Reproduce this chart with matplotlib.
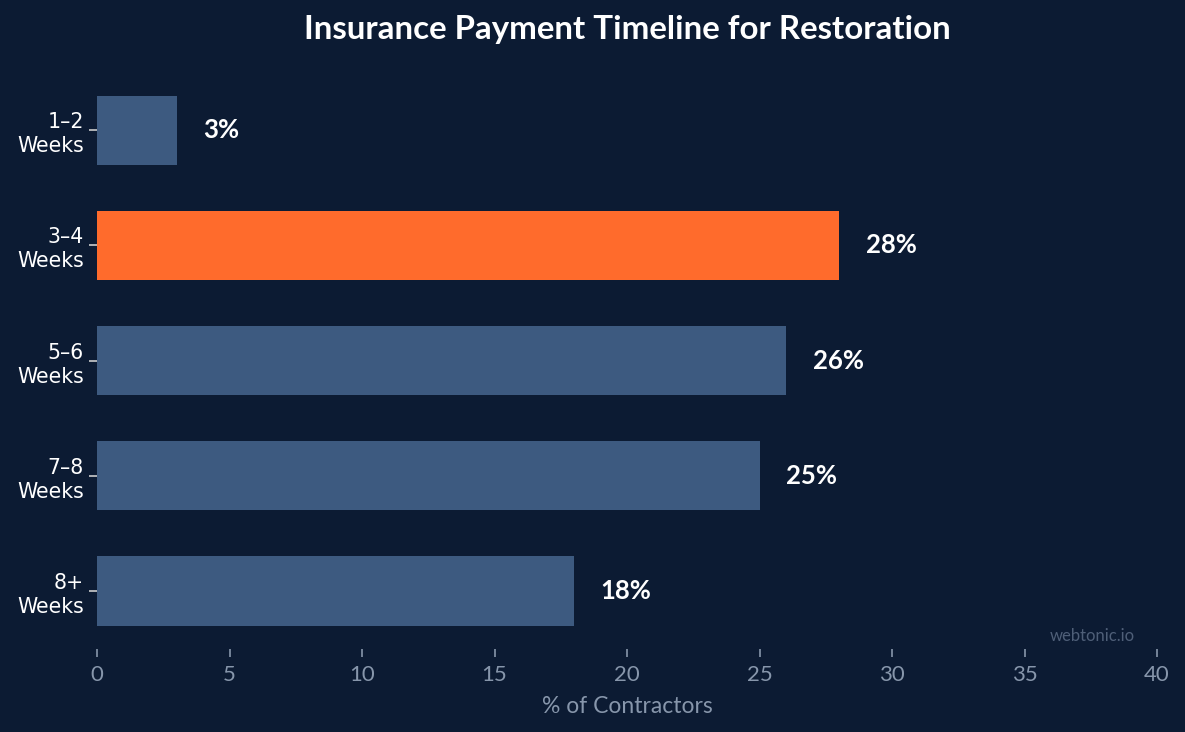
import matplotlib.pyplot as plt

categories = ["1–2\nWeeks", "3–4\nWeeks", "5–6\nWeeks", "7–8\nWeeks", "8+\nWeeks"]
values = [3, 28, 26, 25, 18]
highlight = "3–4\nWeeks"

bg = "#0c1b33"
bar_color = "#3d5a80"
hi_color = "#ff6b2c"
grey = "#8796ab"

fig = plt.figure(figsize=(11.85, 7.32), dpi=100, facecolor=bg)
ax = fig.add_axes([0.0819, 0.114, 0.8945, 0.787], facecolor=bg)

colors = [hi_color if c == highlight else bar_color for c in categories]
ypos = list(range(len(categories)))
ax.barh(ypos, values, height=0.6, color=colors)
ax.set_yticks(ypos)
ax.set_yticklabels(categories, fontsize=14.8, color="white", family="DejaVu Sans",
                   linespacing=1.25)
ax.set_ylim(len(categories) - 0.5, -0.5)
ax.set_xlim(0, 40)
ax.set_xticks(range(0, 41, 5))

for y, v in zip(ypos, values):
    ax.text(v + 1, y, f"{v}%", va="center", ha="left", color="white",
            fontsize=18.5, fontweight="bold", family="Lato")

for s in ax.spines.values():
    s.set_visible(False)
ax.tick_params(axis="y", colors="#cccccc", labelcolor="white", length=6, width=1.2)
ax.tick_params(axis="x", colors=grey, labelsize=16, length=6, width=1.2, pad=6)
for lbl in ax.get_xticklabels():
    lbl.set_family("Lato")

ax.set_xlabel("% of Contractors", color=grey, fontsize=16.5, family="Lato", labelpad=8)
ax.set_title("Insurance Payment Timeline for Restoration", color="white",
             fontsize=23.8, fontweight="bold", family="Lato", pad=24)
fig.text(0.958, 0.131, "webtonic.io", color="#4f5f78", fontsize=12,
         family="Lato", ha="right", va="center")

fig.savefig("out.png", dpi=100, facecolor=bg)
